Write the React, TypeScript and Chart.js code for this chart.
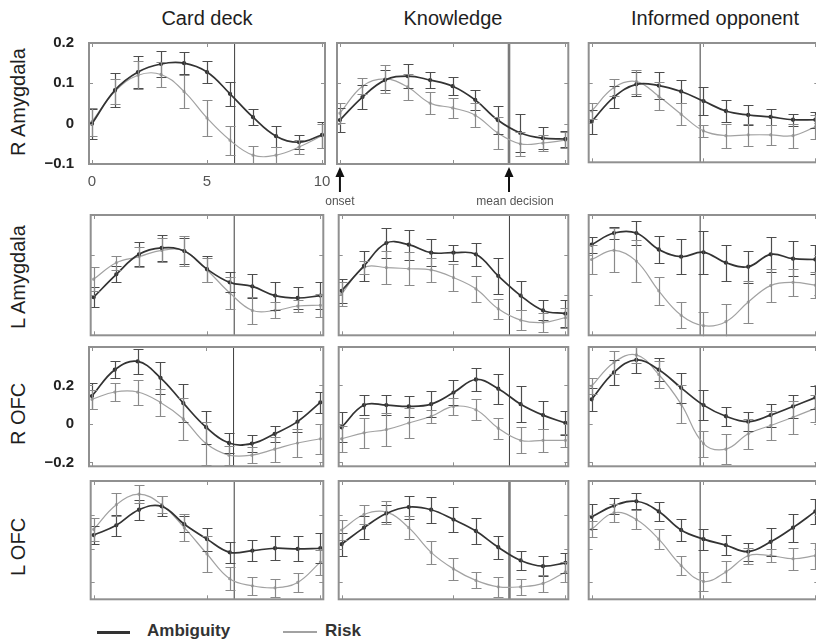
import React, { useEffect, useRef } from "react";
import { Chart, registerables } from "chart.js";

Chart.register(...registerables);

const FONT = '"Liberation Sans", Arial, Helvetica, sans-serif';
Chart.defaults.font.family = FONT;

// ---------- data ----------
const TIME_POINTS = [0, 1, 2, 3, 4, 5, 6, 7, 8, 9, 10];
const X_TICKS = [0, 5, 10];
const CONDITIONS = ["Card deck", "Knowledge", "Informed opponent"];
const REGIONS = ["R Amygdala", "L Amygdala", "R OFC", "L OFC"];
const SERIES_NAMES = ["Ambiguity", "Risk"];
const DECISION_TIME = [6.2, 7.5, 4.85];
const ONSET_TIME = 0;
const ANNOTATION_LABELS = ["onset", "mean decision"];
const Y_MIN = [-0.1, -0.1, -0.22, -0.15];
const Y_MAX = [0.2, 0.2, 0.4, 0.2];
const Y_TICKS = [
  [-0.1, 0, 0.1, 0.2],
  [0, 0.1],
  [-0.2, 0, 0.2],
  [-0.1, 0, 0.1],
];

// R Amygdala
const cardRAmyAmb = [0.0, 0.083, 0.128, 0.148, 0.15, 0.128, 0.074, 0.016, -0.031, -0.046, -0.028];
const cardRAmyAmbErr = [0.037, 0.042, 0.04, 0.032, 0.028, 0.027, 0.03, 0.02, 0.026, 0.018, 0.033];
const cardRAmyRisk = [0.005, 0.08, 0.12, 0.122, 0.08, 0.014, -0.041, -0.078, -0.078, -0.058, -0.03];
const cardRAmyRiskErr = [0.035, 0.03, 0.035, 0.03, 0.04, 0.045, 0.036, 0.023, 0.02, 0.017, 0.03];

const knowRAmyAmb = [0.009, 0.066, 0.108, 0.118, 0.108, 0.093, 0.059, 0.009, -0.023, -0.036, -0.038];
const knowRAmyAmbErr = [0.03, 0.03, 0.025, 0.03, 0.02, 0.022, 0.025, 0.035, 0.048, 0.027, 0.02];
const knowRAmyRisk = [0.026, 0.093, 0.111, 0.091, 0.051, 0.039, 0.021, -0.023, -0.05, -0.048, -0.041];
const knowRAmyRiskErr = [0.025, 0.02, 0.035, 0.033, 0.028, 0.025, 0.03, 0.04, 0.03, 0.02, 0.02];

const oppRAmyAmb = [0.002, 0.064, 0.096, 0.093, 0.078, 0.054, 0.029, 0.019, 0.014, 0.007, 0.007];
const oppRAmyAmbErr = [0.03, 0.028, 0.03, 0.035, 0.03, 0.035, 0.028, 0.025, 0.02, 0.015, 0.02];
const oppRAmyRisk = [0.029, 0.088, 0.103, 0.066, 0.021, -0.021, -0.033, -0.031, -0.031, -0.033, -0.011];
const oppRAmyRiskErr = [0.02, 0.022, 0.03, 0.035, 0.028, 0.016, 0.03, 0.027, 0.025, 0.03, 0.03];

// L Amygdala
const cardLAmyAmb = [-0.005, 0.052, 0.102, 0.118, 0.11, 0.065, 0.032, 0.022, -0.001, -0.007, -0.001];
const cardLAmyAmbErr = [0.025, 0.02, 0.03, 0.033, 0.033, 0.033, 0.025, 0.03, 0.035, 0.028, 0.033];
const cardLAmyRisk = [0.04, 0.081, 0.096, 0.112, 0.11, 0.063, 0.006, -0.038, -0.038, -0.027, -0.025];
const cardLAmyRiskErr = [0.03, 0.018, 0.025, 0.03, 0.037, 0.03, 0.04, 0.033, 0.02, 0.016, 0.029];

const knowLAmyAmb = [0.011, 0.073, 0.13, 0.126, 0.106, 0.106, 0.102, 0.048, -0.001, -0.038, -0.046];
const knowLAmyAmbErr = [0.03, 0.037, 0.037, 0.037, 0.033, 0.02, 0.029, 0.045, 0.037, 0.025, 0.033];
const knowLAmyRisk = [0.003, 0.069, 0.069, 0.066, 0.063, 0.044, 0.016, -0.034, -0.062, -0.068, -0.056];
const knowLAmyRiskErr = [0.03, 0.016, 0.041, 0.041, 0.031, 0.033, 0.033, 0.025, 0.025, 0.023, 0.025];

const oppLAmyAmb = [0.126, 0.155, 0.155, 0.114, 0.096, 0.107, 0.081, 0.071, 0.102, 0.091, 0.089];
const oppLAmyAmbErr = [0.02, 0.015, 0.031, 0.034, 0.043, 0.054, 0.045, 0.04, 0.043, 0.043, 0.037];
const oppLAmyRisk = [0.089, 0.112, 0.085, 0.011, -0.05, -0.076, -0.066, -0.017, 0.024, 0.032, 0.025];
const oppLAmyRiskErr = [0.037, 0.055, 0.053, 0.035, 0.032, 0.033, 0.045, 0.053, 0.041, 0.033, 0.033];

// R OFC
const cardROfcAmb = [0.145, 0.282, 0.325, 0.24, 0.108, -0.017, -0.099, -0.102, -0.051, 0.012, 0.112];
const cardROfcAmbErr = [0.068, 0.043, 0.063, 0.082, 0.1, 0.085, 0.05, 0.043, 0.043, 0.056, 0.055];
const cardROfcRisk = [0.128, 0.166, 0.166, 0.112, 0.026, -0.102, -0.162, -0.162, -0.131, -0.099, -0.077];
const cardROfcRiskErr = [0.05, 0.048, 0.065, 0.068, 0.11, 0.11, 0.05, 0.043, 0.065, 0.072, 0.077];

const knowROfcAmb = [-0.017, 0.098, 0.098, 0.091, 0.103, 0.163, 0.231, 0.183, 0.103, 0.046, 0.005];
const knowROfcAmbErr = [0.077, 0.05, 0.05, 0.055, 0.068, 0.065, 0.06, 0.077, 0.094, 0.072, 0.063];
const knowROfcRisk = [-0.077, -0.046, -0.029, 0.005, 0.04, 0.091, 0.074, -0.022, -0.085, -0.085, -0.085];
const knowROfcRiskErr = [0.068, 0.077, 0.085, 0.077, 0.035, 0.043, 0.055, 0.055, 0.068, 0.06, 0.034];

const oppROfcAmb = [0.128, 0.268, 0.333, 0.282, 0.188, 0.098, 0.04, 0.012, 0.046, 0.091, 0.137];
const oppROfcAmbErr = [0.06, 0.063, 0.068, 0.06, 0.077, 0.077, 0.048, 0.048, 0.06, 0.06, 0.06];
const oppROfcRisk = [0.197, 0.32, 0.359, 0.257, 0.103, -0.102, -0.131, -0.051, -0.008, 0.035, 0.081];
const oppROfcRiskErr = [0.043, 0.06, 0.043, 0.068, 0.1, 0.068, 0.077, 0.077, 0.077, 0.085, 0.07];

// L OFC
const cardLOfcAmb = [0.04, 0.069, 0.115, 0.125, 0.072, 0.028, -0.011, -0.006, 0.001, -0.001, 0.001];
const cardLOfcAmbErr = [0.027, 0.031, 0.029, 0.03, 0.024, 0.034, 0.032, 0.032, 0.035, 0.037, 0.044];
const cardLOfcRisk = [0.057, 0.13, 0.161, 0.13, 0.062, -0.016, -0.089, -0.11, -0.116, -0.1, -0.04];
const cardLOfcRiskErr = [0.034, 0.034, 0.027, 0.025, 0.039, 0.053, 0.034, 0.026, 0.027, 0.029, 0.037];

const knowLOfcAmb = [0.013, 0.062, 0.104, 0.123, 0.115, 0.086, 0.052, 0.004, -0.035, -0.052, -0.042];
const knowLOfcAmbErr = [0.034, 0.034, 0.024, 0.034, 0.039, 0.036, 0.039, 0.034, 0.029, 0.029, 0.029];
const knowLOfcRisk = [0.055, 0.101, 0.108, 0.062, -0.011, -0.06, -0.094, -0.113, -0.113, -0.103, -0.069];
const knowLOfcRiskErr = [0.029, 0.029, 0.034, 0.034, 0.034, 0.032, 0.024, 0.029, 0.024, 0.024, 0.029];

const oppLOfcAmb = [0.094, 0.127, 0.14, 0.11, 0.055, 0.028, 0.01, -0.009, 0.02, 0.062, 0.11];
const oppLOfcAmbErr = [0.037, 0.024, 0.024, 0.029, 0.032, 0.031, 0.029, 0.027, 0.041, 0.041, 0.037];
const oppLOfcRisk = [0.057, 0.106, 0.086, 0.028, -0.05, -0.097, -0.069, -0.021, -0.021, -0.03, -0.021];
const oppLOfcRiskErr = [0.024, 0.027, 0.029, 0.029, 0.029, 0.029, 0.031, 0.024, 0.019, 0.032, 0.039];

// [row][col] -> [amb, ambErr, risk, riskErr]
const PANEL_SERIES = [
  [
    [cardRAmyAmb, cardRAmyAmbErr, cardRAmyRisk, cardRAmyRiskErr],
    [knowRAmyAmb, knowRAmyAmbErr, knowRAmyRisk, knowRAmyRiskErr],
    [oppRAmyAmb, oppRAmyAmbErr, oppRAmyRisk, oppRAmyRiskErr],
  ],
  [
    [cardLAmyAmb, cardLAmyAmbErr, cardLAmyRisk, cardLAmyRiskErr],
    [knowLAmyAmb, knowLAmyAmbErr, knowLAmyRisk, knowLAmyRiskErr],
    [oppLAmyAmb, oppLAmyAmbErr, oppLAmyRisk, oppLAmyRiskErr],
  ],
  [
    [cardROfcAmb, cardROfcAmbErr, cardROfcRisk, cardROfcRiskErr],
    [knowROfcAmb, knowROfcAmbErr, knowROfcRisk, knowROfcRiskErr],
    [oppROfcAmb, oppROfcAmbErr, oppROfcRisk, oppROfcRiskErr],
  ],
  [
    [cardLOfcAmb, cardLOfcAmbErr, cardLOfcRisk, cardLOfcRiskErr],
    [knowLOfcAmb, knowLOfcAmbErr, knowLOfcRisk, knowLOfcRiskErr],
    [oppLOfcAmb, oppLOfcAmbErr, oppLOfcRisk, oppLOfcRiskErr],
  ],
];

// ---------- layout / style ----------
const COL_LEFT = [89, 337, 587];
const COL_WIDTH = [236, 233, 233];
const ROW_TOP = [43, 215, 347, 481];
const ROW_HEIGHT = [121, 122, 121, 120];
const TITLE_CENTER = [207, 453, 715];
const ROW_LABEL_CENTER = [102, 277, 414, 547];
const X_MIN = -0.13;
const X_MAX = 10.13;

const AMB_COLOR = "#333333";
const RISK_COLOR = "#a2a2a2";
const AMB_ERR_COLOR = "#4d4d4d";
const RISK_ERR_COLOR = "#8a8a8a";
const FRAME_COLOR = "#909090";
const CAP = 5;

const fmtY = (v: number) => (Math.abs(v) < 1e-9 ? "0" : v.toFixed(1).replace("-", "\u2212"));

const panelDecor = {
  id: "panelDecor",
  beforeDatasetsDraw(chart: any, _a: any, opts: any) {
    const { ctx, chartArea: a, scales } = chart;
    const x = scales.x.getPixelForValue(opts.decision);
    ctx.save();
    ctx.strokeStyle = opts.decisionColor;
    ctx.lineWidth = opts.decisionWidth;
    ctx.beginPath();
    ctx.moveTo(x, a.top);
    ctx.lineTo(x, a.bottom);
    ctx.stroke();
    ctx.restore();
  },
  afterDatasetsDraw(chart: any, _a: any, opts: any) {
    const { ctx, chartArea: a } = chart;
    const xs = chart.scales.x;
    const ys = chart.scales.y;
    // error bars
    ctx.save();
    ctx.beginPath();
    ctx.rect(a.left, a.top - 1, a.right - a.left, a.bottom - a.top + 2);
    ctx.clip();
    chart.data.datasets.forEach((ds: any) => {
      ctx.strokeStyle = ds.errorColor;
      ctx.lineWidth = 1.2;
      ds.data.forEach((p: any, i: number) => {
        const e = ds.errors[i];
        const px = Math.round(xs.getPixelForValue(p.x)) + 0.5;
        const y1 = Math.round(ys.getPixelForValue(p.y + e)) + 0.5;
        const y2 = Math.round(ys.getPixelForValue(p.y - e)) + 0.5;
        ctx.beginPath();
        ctx.moveTo(px, y1);
        ctx.lineTo(px, y2);
        ctx.moveTo(px - CAP, y1);
        ctx.lineTo(px + CAP, y1);
        ctx.moveTo(px - CAP, y2);
        ctx.lineTo(px + CAP, y2);
        ctx.stroke();
      });
    });
    ctx.restore();

    // frame + inward ticks
    ctx.save();
    ctx.strokeStyle = FRAME_COLOR;
    ctx.lineWidth = 2;
    ctx.strokeRect(a.left, a.top, a.right - a.left, a.bottom - a.top);
    ctx.lineWidth = 1;
    ctx.beginPath();
    (opts.yTicks as number[]).forEach((v) => {
      const py = Math.round(ys.getPixelForValue(v)) + 0.5;
      ctx.moveTo(a.left, py);
      ctx.lineTo(a.left + 4, py);
      ctx.moveTo(a.right, py);
      ctx.lineTo(a.right - 4, py);
    });
    X_TICKS.forEach((v) => {
      const px = Math.round(xs.getPixelForValue(v)) + 0.5;
      ctx.moveTo(px, a.top);
      ctx.lineTo(px, a.top + 4);
      ctx.moveTo(px, a.bottom);
      ctx.lineTo(px, a.bottom - 4);
    });
    ctx.stroke();
    ctx.restore();

    // onset / mean decision arrows
    if (opts.arrows) {
      ctx.save();
      ctx.lineWidth = 2;
      const times = [ONSET_TIME, opts.decision];
      times.forEach((t: number, k: number) => {
        const px = xs.getPixelForValue(t);
        const top = a.bottom + 3;
        ctx.strokeStyle = "#111";
        ctx.fillStyle = "#111";
        ctx.beginPath();
        ctx.moveTo(px, top + 8);
        ctx.lineTo(px, top + 25);
        ctx.stroke();
        ctx.beginPath();
        ctx.moveTo(px, top);
        ctx.lineTo(px - 4.5, top + 10);
        ctx.lineTo(px + 4.5, top + 10);
        ctx.closePath();
        ctx.fill();
        ctx.font = `12px ${FONT}`;
        ctx.fillStyle = "#555";
        ctx.textAlign = "center";
        ctx.textBaseline = "middle";
        ctx.fillText(ANNOTATION_LABELS[k], px + (k === 0 ? 0 : 6), a.bottom + 38);
      });
      ctx.restore();
    }
  },
};

function Panel({ row, col }: { row: number; col: number }) {
  const ref = useRef<HTMLCanvasElement | null>(null);
  const yLab = col === 0 && (row === 0 || row === 2);
  const xLab = col === 0 && row === 0;
  const arrows = row === 0 && col === 1;
  const pad = {
    l: yLab ? 62 : arrows ? 30 : 4,
    t: 10,
    r: xLab ? 14 : 4,
    b: arrows ? 48 : xLab ? 30 : 4,
  };
  const w = COL_WIDTH[col] + pad.l + pad.r;
  const h = ROW_HEIGHT[row] + pad.t + pad.b;

  useEffect(() => {
    const [amb, ambErr, risk, riskErr] = PANEL_SERIES[row][col];
    const thickDecision = col === 1 && (row === 0 || row === 3);
    const chart = new Chart(ref.current as HTMLCanvasElement, {
      type: "line",
      data: {
        datasets: [
          {
            label: SERIES_NAMES[0],
            data: amb.map((y, i) => ({ x: TIME_POINTS[i], y })),
            borderColor: AMB_COLOR,
            backgroundColor: AMB_COLOR,
            borderWidth: 1.7,
            pointRadius: 1.3,
            tension: 0.4,
            errors: ambErr,
            errorColor: AMB_ERR_COLOR,
          } as any,
          {
            label: SERIES_NAMES[1],
            data: risk.map((y, i) => ({ x: TIME_POINTS[i], y })),
            borderColor: RISK_COLOR,
            backgroundColor: RISK_COLOR,
            borderWidth: 1.2,
            pointRadius: 1,
            tension: 0.4,
            errors: riskErr,
            errorColor: RISK_ERR_COLOR,
          } as any,
        ],
      },
      options: {
        animation: false,
        responsive: false,
        devicePixelRatio: 1,
        events: [],
        layout: {
          padding: {
            left: yLab ? 0 : pad.l,
            top: pad.t,
            right: pad.r,
            bottom: xLab ? 0 : pad.b,
          },
        },
        plugins: {
          legend: { display: false },
          tooltip: { enabled: false },
          panelDecor: {
            decision: DECISION_TIME[col],
            decisionColor: thickDecision ? "#7a7a7a" : "#3c3c3c",
            decisionWidth: thickDecision ? 2.6 : 1,
            yTicks: Y_TICKS[row],
            arrows,
          },
        } as any,
        scales: {
          x: {
            type: "linear",
            min: X_MIN,
            max: X_MAX,
            display: xLab,
            grid: { display: false },
            border: { display: false },
            afterBuildTicks: (s: any) => {
              s.ticks = X_TICKS.map((v) => ({ value: v }));
            },
            afterFit: (s: any) => {
              if (!xLab) {
                s.height = 0;
                return;
              }
              s.height = pad.b;
              s.paddingLeft = 0;
              s.paddingRight = 0;
            },
            ticks: {
              padding: 1,
              color: "#555",
              font: { size: 15 },
              maxRotation: 0,
              callback: (v: any) => String(v),
            },
          },
          y: {
            type: "linear",
            min: Y_MIN[row],
            max: Y_MAX[row],
            display: yLab,
            grid: { display: false },
            border: { display: false },
            afterBuildTicks: (s: any) => {
              s.ticks = Y_TICKS[row].map((v) => ({ value: v }));
            },
            afterFit: (s: any) => {
              if (!yLab) {
                s.width = 0;
                return;
              }
              s.width = pad.l;
              s.paddingTop = 0;
              s.paddingBottom = 0;
            },
            ticks: {
              padding: 7,
              color: "#222",
              font: { size: 15, weight: "bold" },
              callback: (v: any) => fmtY(Number(v)),
            },
          },
        },
      },
      plugins: [panelDecor as any],
    });
    return () => chart.destroy();
  }, []);

  return (
    <canvas
      ref={ref}
      width={w}
      height={h}
      style={{
        position: "absolute",
        left: COL_LEFT[col] - pad.l,
        top: ROW_TOP[row] - pad.t,
        width: w,
        height: h,
      }}
    />
  );
}

export default function App() {
  const text: React.CSSProperties = { position: "absolute", fontFamily: FONT, color: "#1e1e1e", whiteSpace: "nowrap" };
  return (
    <div style={{ position: "absolute", left: 0, top: 0, width: 816, height: 642, overflow: "hidden", background: "#fff" }}>
      {CONDITIONS.map((c, i) => (
        <div key={c} style={{ ...text, left: TITLE_CENTER[i] - 150, width: 300, top: 6, fontSize: 20, lineHeight: "24px", textAlign: "center" }}>
          {c}
        </div>
      ))}
      {REGIONS.map((r, i) => (
        <div
          key={r}
          style={{
            ...text,
            left: 17.5 - 100,
            width: 200,
            top: ROW_LABEL_CENTER[i] - 12,
            fontSize: 20,
            lineHeight: "24px",
            textAlign: "center",
            transform: "rotate(-90deg)",
          }}
        >
          {r}
        </div>
      ))}
      {REGIONS.map((_, row) =>
        CONDITIONS.map((__, col) => <Panel key={`${row}-${col}`} row={row} col={col} />)
      )}
      {/* legend */}
      <div style={{ position: "absolute", left: 97, top: 631, width: 33, height: 2.5, background: AMB_COLOR }} />
      <div style={{ ...text, left: 147, top: 621, fontSize: 17, fontWeight: "bold", lineHeight: "20px", color: "#333" }}>{SERIES_NAMES[0]}</div>
      <div style={{ position: "absolute", left: 283, top: 631, width: 34, height: 2, background: RISK_COLOR }} />
      <div style={{ ...text, left: 325, top: 621, fontSize: 17, fontWeight: "bold", lineHeight: "20px", color: "#333" }}>{SERIES_NAMES[1]}</div>
    </div>
  );
}
